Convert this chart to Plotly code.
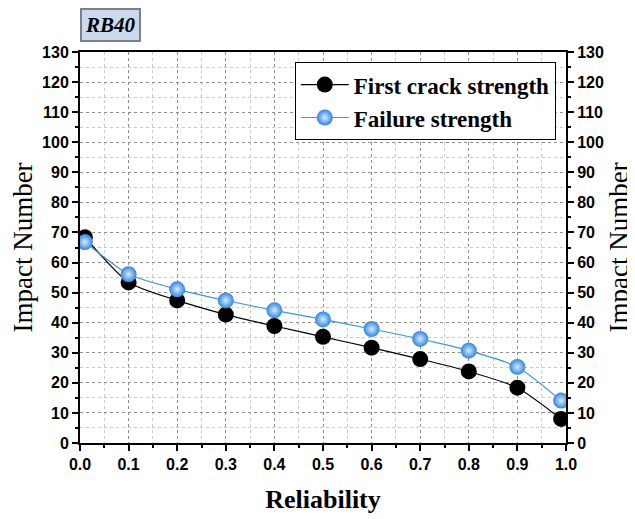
import plotly.graph_objects as go

# Data
reliability = [0.01, 0.1, 0.2, 0.3, 0.4, 0.5, 0.6, 0.7, 0.8, 0.9, 0.99]
first_crack = [68.4, 53.4, 47.4, 42.7, 38.9, 35.3, 31.7, 27.9, 23.8, 18.4, 8.0]
failure = [66.8, 56.1, 51.1, 47.4, 44.1, 41.1, 37.9, 34.6, 30.7, 25.3, 14.1]

x_ticks = [round(i * 0.1, 1) for i in range(11)]
y_ticks = list(range(0, 131, 10))

TICK_FONT = dict(family="Liberation Sans, Arial", size=16, color="#000000",
                 weight="bold")
SERIF = "Liberation Serif, Times New Roman, serif"

fig = go.Figure()

fig.add_trace(go.Scatter(
    x=reliability, y=first_crack,
    mode="lines+markers",
    name="First crack strength",
    line=dict(color="#000000", width=1.2, shape="spline", smoothing=0.6),
    marker=dict(size=16, color="#000000"),
))
fig.add_trace(go.Scatter(
    x=reliability, y=failure,
    mode="lines+markers",
    name="Failure strength",
    line=dict(color="#3f95ea", width=1.2, shape="spline", smoothing=0.6),
    marker=dict(size=16, color="#2f86e0",
                gradient=dict(type="radial", color="#d6ebff"),
                line=dict(width=0)),
))
# invisible trace to carry the right-hand axis
fig.add_trace(go.Scatter(
    x=[reliability[0]], y=[first_crack[0]], yaxis="y2",
    mode="markers", marker=dict(opacity=0), showlegend=False,
    hoverinfo="skip",
))

axis_common = dict(
    showline=True, linecolor="#000000", linewidth=2,
    ticks="outside", ticklen=6, tickwidth=1.5, tickcolor="#000000",
    tickfont=TICK_FONT, zeroline=False, automargin=False,
)

# page body has an 8px margin, so the figure is sized to fit what is left
fig.update_layout(
    width=627, height=511,
    margin=dict(l=72, r=69, t=44, b=76),
    plot_bgcolor="#ffffff", paper_bgcolor="#ffffff",
    showlegend=True,
    legend=dict(
        x=0.442, y=0.974, xanchor="left", yanchor="top",
        bgcolor="#ffffff", bordercolor="#000000", borderwidth=1,
        font=dict(family=SERIF, size=23, color="#000000", weight="bold"),
        tracegroupgap=0, itemwidth=48,
    ),
    xaxis=dict(
        range=[0, 1.0], tickvals=x_ticks, tickformat=".1f",
        mirror=True,
        showgrid=True, gridcolor="#8c8c8c", griddash="dot", gridwidth=1,
        minor=dict(dtick=0.05, ticks="outside", ticklen=3, tickcolor="#000000",
                   showgrid=True, gridcolor="#c8c8c8", griddash="dot"),
        title=dict(text="<b>Reliability</b>", standoff=18,
                   font=dict(family=SERIF, size=26, color="#000000")),
        **axis_common,
    ),
    yaxis=dict(
        range=[0, 130], tickvals=y_ticks,
        showgrid=True, gridcolor="#8c8c8c", griddash="dot", gridwidth=1,
        minor=dict(dtick=5, ticks="outside", ticklen=3, tickcolor="#000000",
                   showgrid=True, gridcolor="#c8c8c8", griddash="dot"),
        title=dict(text="Impact Number", standoff=11,
                   font=dict(family=SERIF, size=27, color="#000000")),
        **axis_common,
    ),
    yaxis2=dict(
        range=[0, 130], tickvals=y_ticks, overlaying="y", side="right",
        showgrid=False,
        minor=dict(dtick=5, ticks="outside", ticklen=3, tickcolor="#000000"),
        **axis_common,
    ),
)

# right-hand axis title, as far right as the page allows
fig.add_annotation(
    x=1.0, y=0.5, xref="paper", yref="paper",
    xanchor="center", yanchor="middle", xshift=52,
    text="Impact Number", textangle=-90, showarrow=False,
    font=dict(family=SERIF, size=27, color="#000000"),
)

fig.add_annotation(
    x=0.0, y=1.0, xref="paper", yref="paper",
    xanchor="left", yanchor="bottom", yshift=10, xshift=0,
    text="<b><i>RB40</i></b>", showarrow=False,
    font=dict(family=SERIF, size=21, color="#000000"),
    bgcolor="#c9daf0", bordercolor="#808080", borderwidth=2, borderpad=3,
)

fig.write_html("out.html")
